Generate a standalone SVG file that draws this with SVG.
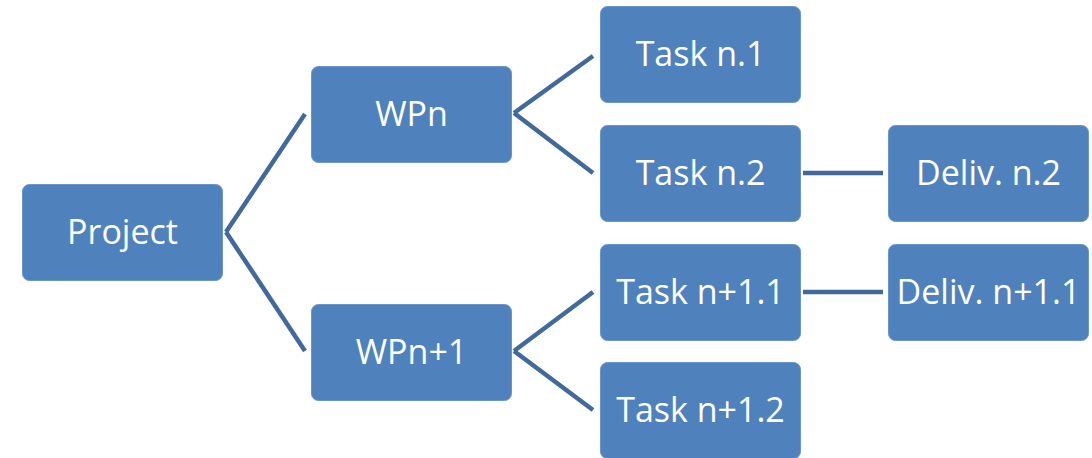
<svg xmlns="http://www.w3.org/2000/svg" width="1092" height="458" viewBox="0 0 1092 458">
<style>
.box{fill:#4F81BD;stroke:#6A95C8;stroke-width:1}
.lbl{font-family:"Open Sans","Liberation Sans",sans-serif;font-size:34px;fill:#FFFFFF;text-anchor:middle;dominant-baseline:central}
.conn line{stroke:#41699C;stroke-width:4.5;stroke-linecap:butt}
</style>
<rect width="1092" height="458" fill="#FFFFFF"/>
<g id="connectors" class="conn">
<line x1="226" y1="232" x2="305" y2="114"/>
<line x1="226" y1="232" x2="305" y2="351"/>
<line x1="514" y1="113" x2="593" y2="56"/>
<line x1="514" y1="113" x2="593" y2="173"/>
<line x1="514" y1="351" x2="593" y2="292"/>
<line x1="514" y1="351" x2="593" y2="410"/>
<line x1="803" y1="173" x2="883" y2="173"/>
<line x1="803" y1="292" x2="883" y2="292"/>
</g>
<g id="project"><rect class="box" x="22.5" y="184.5" width="200" height="96" rx="7"/><text class="lbl" x="122.5" y="231">Project</text></g>
<g id="wpn"><rect class="box" x="311.5" y="66.5" width="200" height="96" rx="7"/><text class="lbl" x="411.5" y="113">WPn</text></g>
<g id="wpn1"><rect class="box" x="311.5" y="304.5" width="200" height="96" rx="7"/><text class="lbl" x="411.5" y="351">WPn+1</text></g>
<g id="taskn1"><rect class="box" x="600.5" y="6.5" width="200" height="96" rx="7"/><text class="lbl" x="700.5" y="53">Task n.1</text></g>
<g id="taskn2"><rect class="box" x="600.5" y="125.5" width="200" height="96" rx="7"/><text class="lbl" x="700.5" y="172">Task n.2</text></g>
<g id="taskn11"><rect class="box" x="600.5" y="244.5" width="200" height="96" rx="7"/><text class="lbl" x="700.5" y="291">Task n+1.1</text></g>
<g id="taskn12"><rect class="box" x="600.5" y="362.5" width="200" height="96" rx="7"/><text class="lbl" x="700.5" y="409">Task n+1.2</text></g>
<g id="delivn2"><rect class="box" x="888.5" y="125.5" width="200" height="96" rx="7"/><text class="lbl" x="988.5" y="172">Deliv. n.2</text></g>
<g id="delivn11"><rect class="box" x="888.5" y="244.5" width="200" height="96" rx="7"/><text class="lbl" x="988.5" y="291">Deliv. n+1.1</text></g>
</svg>
